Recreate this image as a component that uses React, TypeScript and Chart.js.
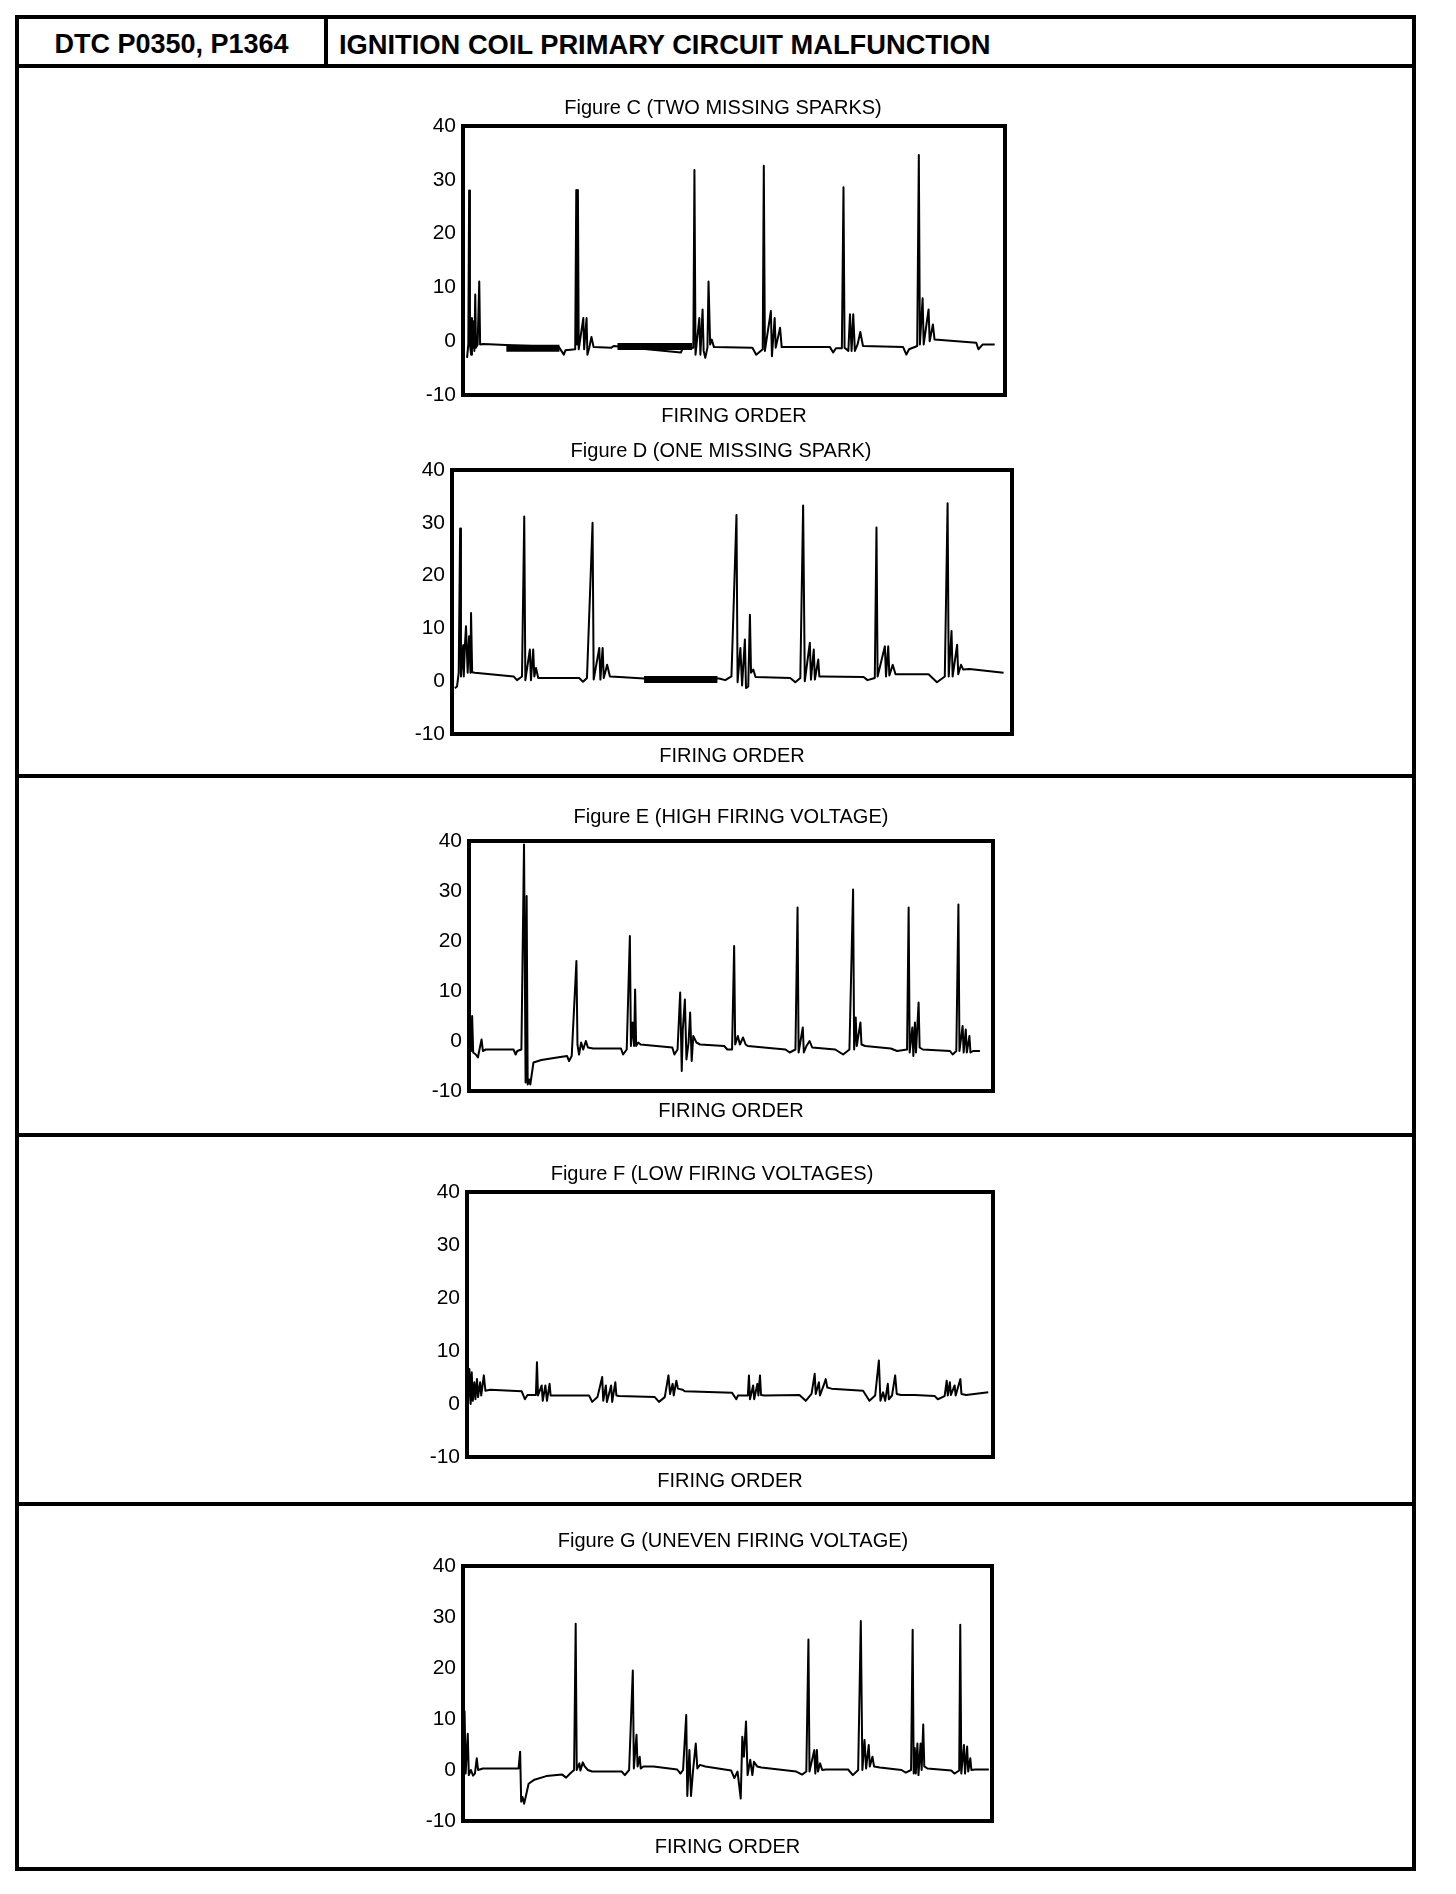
import React, { useEffect, useRef } from "react";
import { Chart, registerables } from "chart.js";

Chart.register(...registerables);

const FONT = "'Liberation Sans', Arial, Helvetica, sans-serif";
Chart.defaults.font.family = FONT;

// ---------- text ----------
const HEADER_CODE = "DTC P0350, P1364";
const HEADER_TITLE = "IGNITION COIL PRIMARY CIRCUIT MALFUNCTION";
const X_AXIS_LABEL = "FIRING ORDER";

// ---------- axes ----------
const Y_MIN = -10;
const Y_MAX = 40;
const Y_STEP = 10;
const X_MIN = 0;
const X_MAX = 100; // time across the screen, % of sweep

// ---------- Figure C ----------
const FIG_C_TITLE = "Figure C (TWO MISSING SPARKS)";
const FIG_C: [number, number][] = [
  [0.75, -3.1], [0.98, -0.6], [1.13, 28.0], [1.28, -0.6], [1.5, -2.5], [1.65, 4.3], [1.8, -1.2], [1.95, 3.7],
  [2.1, -1.8], [2.26, 8.7], [2.4, -1.2], [2.7, -0.6], [3.0, 11.1], [3.16, -0.6], [3.76, -0.5], [7.9, -0.7],
  [17.7, -1.1], [18.6, -2.5], [18.9, -1.7], [20.7, -1.5], [20.9, 28.1], [21.05, -0.6], [21.2, 28.1], [21.35, -1.5],
  [22.2, 4.3], [22.35, -1.5], [22.8, 4.3], [22.95, -2.5], [23.3, -1.2], [23.7, 0.8], [24.1, -1.1], [27.4, -1.2],
  [27.8, -0.9], [40.2, -2.1], [40.6, -1.2], [42.5, -1.2], [42.7, 31.8], [42.9, -2.5], [43.6, 4.3], [43.8, -2.5],
  [44.2, 5.9], [44.4, -1.8], [44.7, -3.1], [45.1, -1.2], [45.3, 11.1], [45.6, -0.6], [45.9, 0.3], [46.3, -1.1],
  [53.4, -1.2], [54.1, -2.5], [55.3, -1.5], [55.5, 32.6], [55.7, -1.8], [56.8, 5.6], [57.0, -2.8], [57.5, 4.3],
  [57.7, -1.2], [58.5, 2.5], [58.8, -1.1], [67.7, -1.1], [68.3, -2.1], [68.8, -1.3], [69.9, -1.3], [70.2, 28.6],
  [70.4, -1.2], [71.1, -1.8], [71.4, 5.0], [71.7, -1.8], [72.0, 5.0], [72.3, -1.8], [72.8, -0.6], [73.3, 1.7],
  [73.8, -0.9], [81.2, -1.1], [81.8, -2.5], [82.3, -1.5], [83.8, -0.9], [84.1, 34.6], [84.3, -0.6], [84.8, 8.0],
  [85.0, -0.6], [85.9, 5.9], [86.1, 0.0], [86.7, 3.1], [87.0, 0.3], [94.7, -0.3], [95.1, -1.5], [95.9, -0.6],
  [98.1, -0.6],
];
const FIG_C_NOISE: [number, number][][] = [
  [[8.0, -1.3], [17.8, -1.3]],
  [[28.5, -1.0], [42.3, -1.0]],
];

// ---------- Figure D ----------
const FIG_D_TITLE = "Figure D (ONE MISSING SPARK)";
const FIG_D: [number, number][] = [
  [0.5, -1.3], [0.9, -1.0], [1.2, 1.6], [1.45, 28.9], [1.6, 0.9], [2.0, 6.8], [2.1, 0.9], [2.3, 6.6],
  [2.5, 10.4], [2.8, 1.6], [3.05, 8.5], [3.3, 1.6], [3.4, 12.9], [3.6, 1.7], [4.1, 1.6], [11.0, 0.9],
  [11.6, 0.2], [12.5, 0.9], [12.9, 31.2], [13.1, 0.2], [13.9, 6.0], [14.1, 0.2], [14.5, 6.0], [14.7, 0.9],
  [15.0, 2.5], [15.4, 0.6], [22.7, 0.6], [23.4, -0.1], [24.1, 0.6], [25.1, 30.0], [25.3, 0.3], [26.3, 6.3],
  [26.5, 0.3], [26.9, 6.3], [27.1, 0.6], [27.7, 3.1], [28.2, 0.9], [29.9, 0.8], [34.3, 0.5], [47.7, 0.5],
  [48.8, 0.2], [49.9, 0.9], [50.8, 31.5], [51.0, -0.2], [51.5, 6.3], [51.8, -0.8], [52.3, 7.9], [52.5, -1.3],
  [52.9, -1.0], [53.2, 12.6], [53.4, 1.6], [53.8, 2.2], [54.2, 0.8], [60.4, 0.6], [61.3, -0.2], [62.2, 0.6],
  [62.7, 33.3], [63.0, 0.0], [63.9, 7.3], [64.1, 0.3], [64.6, 6.0], [64.8, 0.3], [65.4, 4.1], [65.6, 0.9],
  [66.1, 0.9], [73.5, 0.8], [74.2, 0.2], [75.5, 0.6], [75.8, 29.1], [76.0, 0.9], [77.3, 6.6], [77.5, 0.9],
  [77.9, 6.6], [78.1, 1.1], [78.7, 3.1], [79.2, 1.3], [85.1, 1.3], [86.6, -0.2], [88.0, 0.9], [88.5, 33.7],
  [88.7, 0.9], [89.2, 9.5], [89.4, 0.9], [90.2, 6.9], [90.4, 1.3], [90.9, 3.1], [91.3, 2.2], [92.4, 2.3],
  [98.5, 1.6],
];
const FIG_D_NOISE: [number, number][][] = [[[34.3, 0.3], [47.4, 0.3]]];

// ---------- Figure E ----------
const FIG_E_TITLE = "Figure E (HIGH FIRING VOLTAGE)";
const FIG_E: [number, number][] = [
  [0.15, -2.0], [0.4, -2.0], [0.6, 5.0], [0.8, -2.3], [1.3, -2.7], [1.7, -3.3], [2.0, -1.7], [2.4, 0.3],
  [2.65, -2.0], [3.2, -1.7], [8.5, -1.7], [8.9, -2.7], [9.2, -2.0], [10.0, -1.7], [10.5, 39.3], [10.8, -8.3],
  [11.0, 29.0], [11.2, -8.7], [11.5, -7.7], [11.7, -8.7], [12.3, -4.3], [13.8, -3.8], [16.8, -3.3], [18.7, -3.0],
  [19.1, -4.0], [19.6, -3.0], [20.5, 16.0], [20.7, -0.7], [21.0, -2.7], [21.4, -0.3], [21.8, -1.7], [22.3, 0.0],
  [22.7, -1.3], [23.7, -1.5], [29.0, -1.5], [29.4, -2.7], [30.1, -1.7], [30.7, 21.0], [30.9, -1.0], [31.2, 3.7],
  [31.5, -1.0], [31.7, 10.3], [31.9, -1.0], [32.3, -0.3], [32.75, -0.7], [38.8, -1.3], [39.2, -2.7], [39.8, -1.7],
  [40.3, 9.7], [40.6, -6.0], [40.8, 2.3], [41.2, 8.3], [41.5, -3.7], [41.9, -0.3], [42.2, 5.7], [42.5, -4.0],
  [42.8, 1.0], [43.4, -0.3], [44.1, -0.7], [48.7, -1.0], [49.3, -1.7], [50.2, -1.7], [50.6, 19.0], [50.8, -0.7],
  [51.3, 1.0], [51.7, -0.7], [52.3, 0.7], [52.8, -0.7], [53.2, -1.0], [60.4, -1.7], [61.2, -2.3], [62.3, -1.7],
  [62.7, 26.7], [62.9, -2.3], [63.7, 2.7], [63.9, -2.3], [64.4, -1.0], [65.0, 0.0], [65.5, -1.3], [69.9, -1.7],
  [71.4, -2.7], [72.6, -1.7], [73.3, 30.3], [73.5, -1.7], [73.8, 4.7], [74.0, -1.0], [74.7, 3.7], [74.9, -0.7],
  [75.6, -1.0], [80.5, -1.5], [81.7, -2.0], [83.6, -1.7], [83.9, 26.7], [84.1, -2.3], [84.6, 2.7], [84.8, -3.0],
  [85.1, 3.7], [85.3, -2.3], [85.8, 7.7], [86.0, -1.3], [86.6, -1.7], [91.8, -2.0], [92.3, -2.7], [93.0, -2.0],
  [93.4, 27.3], [93.6, -2.0], [94.2, 3.0], [94.4, -2.3], [94.8, 2.3], [95.0, -2.3], [95.5, 1.0], [95.7, -2.3],
  [96.2, -2.0], [97.5, -2.0],
];

// ---------- Figure F ----------
const FIG_F_TITLE = "Figure F (LOW FIRING VOLTAGES)";
const FIG_F: [number, number][] = [
  [0.2, 0.0], [0.45, 6.6], [0.7, 0.0], [0.9, 6.0], [1.1, 0.6], [1.4, 4.1], [1.6, 0.9], [1.9, 4.7],
  [2.1, 1.3], [2.5, 4.1], [2.7, 1.6], [3.2, 5.4], [3.5, 2.5], [4.4, 2.7], [10.4, 2.4], [11.0, 0.9],
  [11.5, 1.7], [13.1, 1.7], [13.3, 7.9], [13.5, 1.6], [14.2, 3.5], [14.4, 0.6], [14.9, 3.5], [15.2, 0.6],
  [15.7, 3.8], [15.9, 1.6], [16.5, 1.6], [23.2, 1.6], [23.8, 0.4], [24.8, 1.3], [25.7, 5.1], [25.9, 0.6],
  [26.4, 3.5], [26.6, 0.4], [27.4, 3.5], [27.6, 0.4], [28.2, 4.1], [28.4, 1.6], [28.9, 1.5], [35.7, 1.3],
  [36.5, 0.4], [37.6, 1.3], [38.3, 5.4], [38.6, 1.9], [39.1, 3.8], [39.3, 1.6], [39.8, 4.4], [40.1, 2.9],
  [41.0, 2.7], [41.4, 2.4], [50.4, 2.1], [51.2, 0.9], [51.5, 1.6], [53.4, 1.6], [53.6, 5.4], [53.8, 0.9],
  [54.4, 3.5], [54.6, 0.9], [55.2, 3.8], [55.4, 1.6], [55.7, 5.4], [55.9, 1.7], [56.5, 1.6], [63.2, 1.7],
  [64.4, 0.6], [65.5, 1.9], [66.1, 5.7], [66.3, 1.9], [66.9, 4.1], [67.1, 1.6], [67.8, 3.5], [68.2, 4.7],
  [68.5, 3.1], [69.3, 2.9], [75.3, 2.5], [76.5, 0.6], [77.6, 1.6], [78.3, 8.2], [78.6, 0.6], [79.1, 2.2],
  [79.5, 0.6], [80.0, 3.8], [80.2, 0.9], [80.8, 1.6], [81.4, 5.4], [81.7, 1.9], [82.5, 1.7], [85.1, 1.7],
  [88.9, 1.5], [89.5, 0.9], [90.8, 1.5], [91.2, 4.4], [91.4, 1.6], [91.8, 4.1], [92.0, 1.7], [92.7, 3.5],
  [92.9, 1.6], [93.8, 4.7], [94.0, 1.9], [94.9, 1.7], [99.1, 2.2],
];

// ---------- Figure G ----------
const FIG_G_TITLE = "Figure G (UNEVEN FIRING VOLTAGE)";
const FIG_G: [number, number][] = [
  [0.15, 0.0], [0.3, 11.5], [0.5, -0.7], [0.9, 7.1], [1.1, -1.0], [1.5, 0.0], [1.9, -1.1], [2.25, -0.7],
  [2.6, 2.3], [2.85, 0.0], [3.75, 0.3], [10.5, 0.3], [10.8, 3.6], [11.0, -6.2], [11.25, -5.3], [11.55, -6.6],
  [11.85, -5.3], [12.4, -2.7], [13.5, -1.9], [15.75, -1.2], [18.75, -0.9], [19.5, -1.5], [20.25, -0.7], [21.0, 0.0],
  [21.3, 28.7], [21.5, 0.0], [22.0, 1.3], [22.2, -0.1], [22.65, 1.5], [23.0, 0.7], [23.6, 0.0], [24.4, -0.3],
  [30.0, -0.3], [30.6, -1.0], [31.4, 0.0], [32.1, 19.5], [32.3, 0.3], [32.8, 6.9], [33.0, 0.7], [33.4, 2.6],
  [33.6, 0.3], [34.1, 0.7], [36.0, 0.7], [40.5, 0.1], [41.1, -0.7], [41.6, 0.0], [42.2, 10.8], [42.4, -5.1],
  [42.8, 3.9], [43.1, -5.1], [43.5, 0.0], [44.0, 5.2], [44.3, 0.3], [44.8, 1.0], [45.8, 0.7], [50.7, -0.1],
  [51.3, -1.6], [51.9, -0.3], [52.5, -5.6], [52.8, 6.5], [53.1, 2.6], [53.5, 9.5], [53.8, -1.0], [54.3, 2.0],
  [54.7, -1.0], [55.0, 1.6], [55.6, 0.7], [56.4, 0.5], [63.0, -0.3], [64.1, -0.9], [64.9, -0.3], [65.3, 25.6],
  [65.5, -0.3], [66.4, 3.9], [66.6, -0.7], [66.9, 3.9], [67.1, -0.3], [67.5, 1.3], [67.9, 0.0], [68.6, 0.1],
  [72.8, 0.1], [73.7, -1.0], [74.7, 0.0], [75.2, 29.2], [75.5, 0.0], [75.9, 5.9], [76.2, 0.3], [76.7, 4.9],
  [76.9, 0.7], [77.4, 2.6], [77.7, 0.7], [78.8, 0.5], [82.9, 0.0], [83.7, -0.5], [84.7, 0.0], [85.0, 27.5],
  [85.2, -0.7], [85.4, 4.3], [85.6, -0.7], [85.9, 5.2], [86.1, -1.0], [86.5, 5.2], [86.7, 0.0], [87.0, 8.9],
  [87.2, 0.7], [87.8, 0.3], [92.3, -0.1], [92.9, -0.7], [93.8, -0.1], [94.0, 28.5], [94.2, -0.7], [94.7, 4.9],
  [94.9, -0.7], [95.3, 4.6], [95.5, -0.3], [95.9, 2.3], [96.1, 0.0], [96.8, 0.1], [99.4, 0.1],
];

// ---------- page geometry (pixels, layout only) ----------
type Geom = { boxL: number; boxR: number; boxT: number; boxB: number; titleX: number; titleY: number; foY: number };
const GEOM_C: Geom = { boxL: 463, boxR: 1005, boxT: 126, boxB: 395, titleX: 723, titleY: 108, foY: 416 };
const GEOM_D: Geom = { boxL: 452, boxR: 1012, boxT: 470, boxB: 734, titleX: 721, titleY: 451, foY: 756 };
const GEOM_E: Geom = { boxL: 469, boxR: 993, boxT: 841, boxB: 1091, titleX: 731, titleY: 817, foY: 1111 };
const GEOM_F: Geom = { boxL: 467, boxR: 993, boxT: 1192, boxB: 1457, titleX: 712, titleY: 1174, foY: 1481 };
const GEOM_G: Geom = { boxL: 463, boxR: 992, boxT: 1566, boxB: 1821, titleX: 733, titleY: 1541, foY: 1847 };

const boxPlugin = {
  id: "scopeBox",
  afterDatasetsDraw(chart: any) {
    const { ctx, chartArea } = chart;
    const { left, top, right, bottom } = chartArea;
    ctx.save();
    ctx.strokeStyle = "#000";
    ctx.lineWidth = 4;
    ctx.strokeRect(left, top, right - left, bottom - top);
    ctx.restore();
  },
};

function Scope(props: { title: string; trace: [number, number][]; noise?: [number, number][][]; g: Geom }) {
  const { title, trace, noise = [], g } = props;
  const ref = useRef<HTMLCanvasElement | null>(null);

  const yW = 50; // left axis (labels) width
  const wR = Math.max(0, 2 * g.titleX - g.boxL - g.boxR + yW); // right spacer so title centres where it should
  const padL = 4;
  const padR = 4;
  const L = g.boxL - yW - padL;
  const R = g.boxR + wR + padR;
  const top = g.titleY - 20;
  const titlePadTop = 8;
  const lineH = 24;
  const titlePadBottom = g.boxT - top - titlePadTop - lineH;
  const xTitlePadBottom = 6;
  const xH = g.foY - g.boxB + xTitlePadBottom + 12;
  const bottom = g.boxB + xH;
  const w = R - L;
  const h = bottom - top;

  useEffect(() => {
    if (!ref.current) return;
    const datasets: any[] = [
      {
        data: trace.map(([x, y]) => ({ x, y })),
        borderColor: "#000",
        borderWidth: 2,
        pointRadius: 0,
        tension: 0,
        borderJoinStyle: "round",
      },
      ...noise.map((seg) => ({
        data: seg.map(([x, y]) => ({ x, y })),
        borderColor: "#000",
        borderWidth: 7,
        pointRadius: 0,
        borderCapStyle: "butt",
      })),
    ];
    const chart = new Chart(ref.current, {
      type: "line",
      data: { datasets },
      options: {
        animation: false,
        responsive: false,
        layout: { padding: { left: padL, right: padR, top: 0, bottom: 0 } },
        plugins: {
          legend: { display: false },
          tooltip: { enabled: false },
          title: {
            display: true,
            text: title,
            color: "#000",
            font: { family: FONT, size: 20, weight: "normal", lineHeight: 1.2 },
            padding: { top: titlePadTop, bottom: titlePadBottom },
          },
        },
        scales: {
          x: {
            type: "linear",
            min: X_MIN,
            max: X_MAX,
            ticks: { display: false },
            grid: { display: false, drawTicks: false },
            border: { display: false },
            title: {
              display: true,
              text: X_AXIS_LABEL,
              color: "#000",
              font: { family: FONT, size: 20, lineHeight: 1.2 },
              padding: { top: 0, bottom: xTitlePadBottom },
            },
            afterFit: (s: any) => {
              s.height = xH;
            },
          },
          y: {
            type: "linear",
            position: "left",
            min: Y_MIN,
            max: Y_MAX,
            ticks: { stepSize: Y_STEP, color: "#000", font: { family: FONT, size: 21 }, padding: 7 },
            grid: { display: false, drawTicks: false },
            border: { display: false },
            afterFit: (s: any) => {
              s.width = yW;
            },
          },
          ySpacer: {
            type: "linear",
            position: "right",
            min: Y_MIN,
            max: Y_MAX,
            ticks: { display: false },
            grid: { display: false, drawTicks: false },
            border: { display: false },
            afterFit: (s: any) => {
              s.width = wR;
            },
          },
        },
      } as any,
      plugins: [boxPlugin],
    });
    return () => chart.destroy();
  }, []);

  return (
    <canvas
      ref={ref}
      width={w}
      height={h}
      style={{ position: "absolute", left: L, top, width: w, height: h }}
    />
  );
}

const line = (left: number, top: number, width: number, height: number) => (
  <div style={{ position: "absolute", left, top, width, height, background: "#000" }} />
);

export default function App() {
  return (
    <div
      style={{
        position: "absolute",
        left: 0,
        top: 0,
        width: 1456,
        height: 1894,
        background: "#fff",
        fontFamily: FONT,
        color: "#000",
        overflow: "hidden",
      }}
    >
      <div
        style={{
          position: "absolute",
          left: 15,
          top: 15,
          width: 1401,
          height: 1856,
          border: "4px solid #000",
          boxSizing: "border-box",
        }}
      />
      {line(15, 64, 1401, 4)}
      {line(324, 15, 4, 51)}
      {line(15, 774, 1401, 4)}
      {line(15, 1133, 1401, 4)}
      {line(15, 1502, 1401, 4)}
      <div
        style={{
          position: "absolute",
          left: 19,
          top: 22,
          width: 305,
          height: 45,
          display: "flex",
          alignItems: "center",
          justifyContent: "center",
          fontWeight: "bold",
          fontSize: 27,
          whiteSpace: "nowrap",
        }}
      >
        {HEADER_CODE}
      </div>
      <div
        style={{
          position: "absolute",
          left: 339,
          top: 22,
          height: 45,
          display: "flex",
          alignItems: "center",
          fontWeight: "bold",
          fontSize: 27.3,
          whiteSpace: "nowrap",
        }}
      >
        {HEADER_TITLE}
      </div>
      <Scope title={FIG_C_TITLE} trace={FIG_C} noise={FIG_C_NOISE} g={GEOM_C} />
      <Scope title={FIG_D_TITLE} trace={FIG_D} noise={FIG_D_NOISE} g={GEOM_D} />
      <Scope title={FIG_E_TITLE} trace={FIG_E} g={GEOM_E} />
      <Scope title={FIG_F_TITLE} trace={FIG_F} g={GEOM_F} />
      <Scope title={FIG_G_TITLE} trace={FIG_G} g={GEOM_G} />
    </div>
  );
}
